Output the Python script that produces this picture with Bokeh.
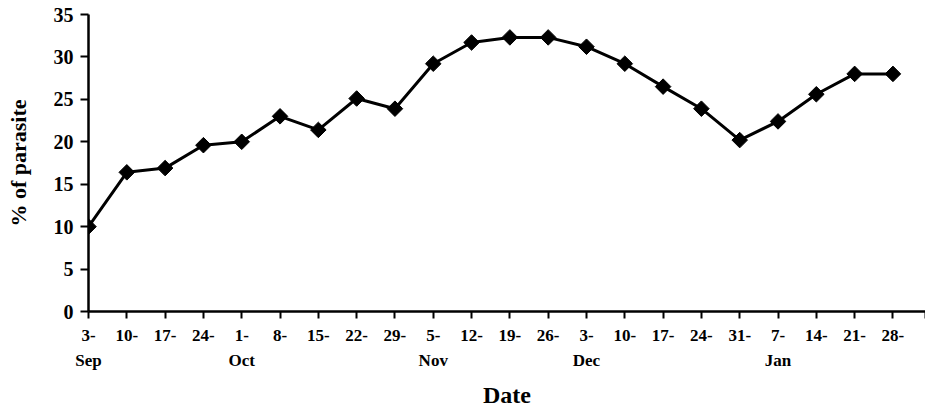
import numpy as np
from bokeh.plotting import figure
from bokeh.models import FixedTicker, LinearAxis, Range1d
from bokeh.embed import file_html
from bokeh.resources import INLINE

# ---- data ----
days = ["3-", "10-", "17-", "24-", "1-", "8-", "15-", "22-", "29-", "5-", "12-",
        "19-", "26-", "3-", "10-", "17-", "24-", "31-", "7-", "14-", "21-", "28-"]
month_names = ["Sep", "Oct", "Nov", "Dec", "Jan"]
month_pos = [0, 4, 9, 13, 18]
parasite = [10.0, 16.4, 16.9, 19.6, 20.0, 23.0, 21.4, 25.1, 23.9, 29.2, 31.7,
            32.3, 32.3, 31.2, 29.2, 26.5, 23.9, 20.2, 22.4, 25.6, 28.0, 28.0]
y_ticks = [0, 5, 10, 15, 20, 25, 30, 35]

x = list(range(len(days)))
x_end = 21.85

FONT = "Liberation Serif"

p = figure(width=925, height=411, output_backend="svg", toolbar_location=None,
           x_range=Range1d(0, x_end), y_range=Range1d(0, 35),
           x_axis_type=None, min_border_left=88, min_border_top=14,
           min_border_right=0, min_border_bottom=100)
p.outline_line_color = None
p.background_fill_color = "white"
p.border_fill_color = "white"
p.xgrid.visible = False
p.ygrid.visible = False

# y axis
ya = p.yaxis[0]
ya.ticker = FixedTicker(ticks=y_ticks)
ya.minor_tick_line_color = None
ya.major_tick_out = 8
ya.major_tick_in = 0
ya.major_tick_line_width = 2
ya.axis_line_width = 2.5
ya.axis_line_color = "black"
ya.major_tick_line_color = "black"
ya.major_label_text_font = FONT
ya.major_label_text_font_style = "bold"
ya.major_label_text_font_size = "20px"
ya.major_label_text_color = "black"
ya.major_label_standoff = 7
ya.axis_label = "% of parasite"
ya.axis_label_text_font = FONT
ya.axis_label_text_font_style = "bold"
ya.axis_label_text_font_size = "22px"
ya.axis_label_text_color = "black"
ya.axis_label_standoff = 20

# x axis: day labels
xa = LinearAxis(ticker=FixedTicker(ticks=x + [x_end]))
overrides = {i: d for i, d in enumerate(days)}
overrides[x_end] = ""
xa.major_label_overrides = overrides
xa.minor_tick_line_color = None
xa.major_tick_out = 7
xa.major_tick_in = 0
xa.major_tick_line_width = 2
xa.axis_line_width = 2.5
xa.major_label_text_font = FONT
xa.major_label_text_font_style = "bold"
xa.major_label_text_font_size = "17px"
xa.major_label_text_color = "black"
xa.major_label_standoff = 11
p.add_layout(xa, "below")

# x axis: month labels
ma = LinearAxis(ticker=FixedTicker(ticks=month_pos))
ma.major_label_overrides = {pos: m for pos, m in zip(month_pos, month_names)}
ma.axis_line_color = None
ma.major_tick_line_color = None
ma.minor_tick_line_color = None
ma.major_tick_out = 0
ma.major_label_text_font = FONT
ma.major_label_text_font_style = "bold"
ma.major_label_text_font_size = "17px"
ma.major_label_text_color = "black"
ma.major_label_standoff = 7
ma.axis_label = "Date"
ma.axis_label_text_font = FONT
ma.axis_label_text_font_style = "bold"
ma.axis_label_text_font_size = "24px"
ma.axis_label_text_color = "black"
ma.axis_label_standoff = 9
p.add_layout(ma, "below")

p.line(x, parasite, line_width=3, line_color="black")
p.scatter(x, parasite, marker="square", angle=np.pi / 4, size=11,
          fill_color="black", line_color="black", line_width=1)

open("out.html", "w").write(file_html(p, INLINE))
